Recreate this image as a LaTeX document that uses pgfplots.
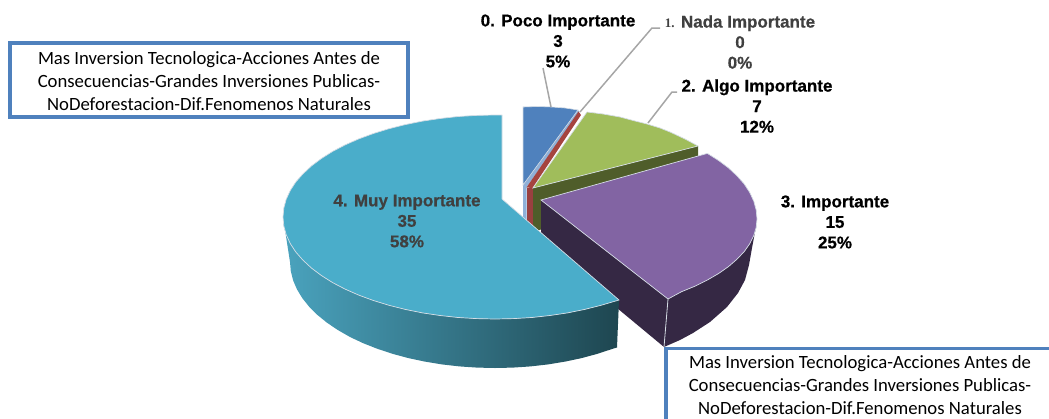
\documentclass[border=0pt]{standalone}
\usepackage{pgfplots}
\pgfplotsset{compat=1.18}
\usepackage{fontspec}
\setmainfont[BoldFeatures={FakeBold=0.6}]{Liberation Sans}
\newfontfamily\calfont{Carlito}
\newfontfamily\serfont{Liberation Serif}
\definecolor{bBlue}{HTML}{4F81BD}
\definecolor{bBlueW}{HTML}{8FB0D8}
\definecolor{bRed}{HTML}{A5443F}
\definecolor{bRedW}{HTML}{9A4040}
\definecolor{bGreen}{HTML}{A0BD5B}
\definecolor{bGreenW}{HTML}{4F5D2A}
\definecolor{bPurple}{HTML}{8264A3}
\definecolor{bPurpleW}{HTML}{352844}
\definecolor{bTeal}{HTML}{4AADCA}
\definecolor{bTealL}{HTML}{4AA3BE}
\definecolor{bTealD}{HTML}{1E4650}
\definecolor{edgeC}{HTML}{D5DDE5}
\definecolor{leadC}{HTML}{A6A6A6}
\definecolor{txtG}{HTML}{404040}
\begin{document}
\begin{tikzpicture}
\useasboundingbox (0,0) rectangle (1049pt,418pt);
\begin{axis}[at={(0,0)},anchor=south west,width=1049pt,height=418pt,scale only axis,
  hide axis,xmin=0,xmax=1049,ymin=0,ymax=418,y dir=reverse,no markers,clip=true]
% blue slice
\addplot[fill=bBlueW,draw=none] coordinates {(523,185)(526.5,187)(526.5,221)(523,218)} -- cycle;
\addplot[fill=bBlueW,draw=none] coordinates {(523,185)(526.5,187.5)(579,112)(578,110)} -- cycle;
\addplot[fill=bBlue,draw=edgeC,line width=0.6pt] coordinates {(523,185)(523,107)(538,106.5)(552,107)(565,108)(578,110)} -- cycle;
% red slice
\addplot[fill=bRedW,draw=none] coordinates {(527,188)(533,188)(533,226)(527,222)} -- cycle;
\addplot[fill=bRed,draw=none] coordinates {(526.5,187.5)(532.5,188)(581,115)(578.5,111.5)} -- cycle;
% green slice
\addplot[fill=bGreenW,draw=none] coordinates {(533,188)(698,146)(698,180)(533,232)} -- cycle;
\addplot[fill=bGreen,draw=edgeC,line width=0.7pt] coordinates {(533,188)(587,112)(603,114)(620,117)(635,121)(647,124)(660,128)(670,132)(685,139)(698,146)} -- cycle;
% purple slice
\addplot[fill=bPurpleW,draw=none] coordinates {(541,200)(668,299)(664,347)(617,308)(541,238)} -- cycle;
\addplot[fill=bPurpleW,draw=none] coordinates {(668,299)(681.3,291.8)(694.9,286.2)(707.4,280)(718.6,273.5)(728.6,266.5)(737.1,259.1)(744.3,251.5)(749.8,243.6)(753.8,235.5)(756.2,227.3)(755,232)(752,248)(749,265)(745,280)(738,293)(727,307)(710,322)(693,333)(680,340)(664,347)} -- cycle;
\addplot[draw=edgeC,line width=0.8pt] coordinates {(668,299)(664,347)};
\addplot[fill=bPurple,draw=edgeC,line width=0.7pt] coordinates {(541,200)(707.4,153.4)(718.6,160.5)(728.6,168)(737.1,175.9)(744.3,184.1)(749.8,192.6)(753.8,201.3)(756.2,210.1)(757,219)(756.2,227.3)(753.8,235.5)(749.8,243.6)(744.3,251.5)(737.1,259.1)(728.6,266.5)(718.6,273.5)(707.4,280)(694.9,286.2)(681.3,291.8)(668,299)} -- cycle;
% teal slice: wall
\addplot[left color=bTealL,right color=bTealD,draw=none] coordinates {
(283,217)(283.8,225.9)(286.2,234.7)(290.2,243.4)(295.7,251.9)(302.9,260.1)(311.4,268)(321.4,275.5)(332.6,282.6)(345.1,289.1)(358.7,295.1)(373.4,300.5)(389,305.3)(405.3,309.4)(422.5,312.9)(440.1,315.5)(458.2,317.5)(476.5,318.6)(495,319)(513.5,318.6)(531.8,317.5)(549.9,315.5)(567.5,312.9)(584.7,309.4)(601,305.3)(619,300)
(617,347.5)(612.6,348.8)(597.5,353.8)(581.6,358.1)(565.1,361.6)(548.1,364.4)(530.6,366.4)(512.9,367.6)(495,368)(477.1,367.6)(459.4,366.4)(441.9,364.4)(424.9,361.6)(408.4,358.1)(392.5,353.8)(377.4,348.8)(363.2,343.2)(350,337)(338,330.1)(327.1,322.8)(317.5,315)(309.2,306.8)(302.4,298.3)(297,289.4)(293.1,280.4)(290.8,271.2)(290,262)} -- cycle;
% teal slice: top
\addplot[fill=bTeal,draw=edgeC,line width=0.7pt] coordinates {
(502,115)(495,115)(476.5,115.4)(458.2,116.5)(440.1,118.5)(422.5,121.1)(405.3,124.6)(389,128.7)(373.4,133.5)(358.7,138.9)(345.1,144.9)(332.6,151.4)(321.4,158.5)(311.4,166)(302.9,173.9)(295.7,182.1)(290.2,190.6)(286.2,199.3)(283.8,208.1)(283,217)(283.8,225.9)(286.2,234.7)(290.2,243.4)(295.7,251.9)(302.9,260.1)(311.4,268)(321.4,275.5)(332.6,282.6)(345.1,289.1)(358.7,295.1)(373.4,300.5)(389,305.3)(405.3,309.4)(422.5,312.9)(440.1,315.5)(458.2,317.5)(476.5,318.6)(495,319)(513.5,318.6)(531.8,317.5)(549.9,315.5)(567.5,312.9)(584.7,309.4)(601,305.3)(619,300)(502,199)} -- cycle;
% leader lines
\addplot[draw=leadC,line width=1.5pt] coordinates {(543,68)(551,107)};
\addplot[draw=leadC,line width=1.5pt] coordinates {(660,28)(652,28)(580,112)};
\addplot[draw=leadC,line width=1.5pt] coordinates {(677,92)(672,92)(648,123)};
% boxes
\addplot[draw=bBlue,fill=white,line width=3.3pt] coordinates {(10,43)(408,43)(408,117)(10,117)} -- cycle;
\addplot[draw=bBlue,fill=white,line width=3.3pt] coordinates {(666,348.5)(1060,348.5)(1060,430)(666,430)} -- cycle;
% labels
\tikzset{lab/.style={align=center,inner sep=0pt,font=\fontsize{17}{20.5}\selectfont\bfseries}}
\node[lab] at (axis cs:558,41) {0. Poco Importante\\3\\5\%};
\node[lab,text=txtG] at (axis cs:740,42) {{\serfont\fontsize{13}{20.5}\selectfont 1.} Nada Importante\\0\\0\%};
\node[lab] at (axis cs:757,106) {2. Algo Importante\\7\\12\%};
\node[lab] at (axis cs:835,222) {3. Importante\\15\\25\%};
\node[lab,text=txtG] at (axis cs:407,221) {4. Muy Importante\\35\\58\%};
\tikzset{bx/.style={align=center,inner sep=0pt,font=\calfont\fontsize{18.7}{23}\selectfont}}
\node[bx] at (axis cs:209,81) {Mas Inversion Tecnologica-Acciones Antes de\\Consecuencias-Grandes Inversiones Publicas-\\NoDeforestacion-Dif.Fenomenos Naturales};
\node[bx] at (axis cs:860,385.5) {Mas Inversion Tecnologica-Acciones Antes de\\Consecuencias-Grandes Inversiones Publicas-\\NoDeforestacion-Dif.Fenomenos Naturales};
\end{axis}
\end{tikzpicture}
\end{document}
